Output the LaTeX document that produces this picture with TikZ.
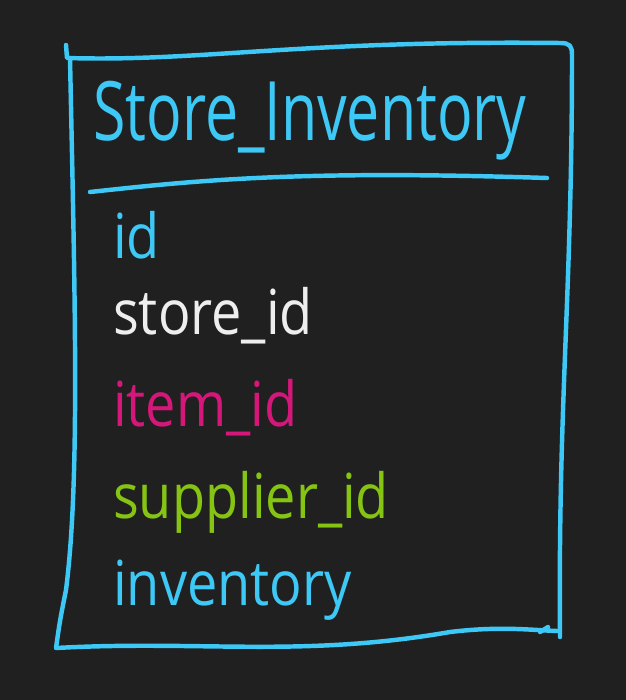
\documentclass[tikz,border=0pt]{standalone}
\usepackage{fontspec}
\setmainfont{Open Sans}
\definecolor{boardbg}{HTML}{202020}
\definecolor{penblue}{HTML}{3EC8F5}
\definecolor{penwhite}{HTML}{EEEEEE}
\definecolor{penpink}{HTML}{D6177A}
\definecolor{pengreen}{HTML}{86C414}
\tikzset{
  pen/.style={penblue, line width=3.8pt, line cap=round, line join=round},
  title/.style={anchor=base west, inner sep=0pt, xscale=0.72, font=\fontsize{70}{70}\selectfont},
  field/.style={anchor=base west, inner sep=0pt, xscale=0.87, font=\fontsize{53}{53}\selectfont}
}
\begin{document}
\begin{tikzpicture}[x=0.03cm, y=-0.03cm]
    % Background board
    \fill[boardbg] (0,0) rectangle (626,700);
    \useasboundingbox (0,0) rectangle (626,700);

    % Outline of the table
    \draw[pen] (66,45) -- (67,58) .. controls (200,62) and (300,40) .. (560,43)
        .. controls (570,43) and (572,46) .. (572,55) .. controls (572,300) and (558,400) .. (560,637);
    \draw[pen] (70,58) .. controls (75,300) and (80,480) .. (66,590) .. controls (60,620) .. (56,648)
        .. controls (200,640) and (300,658) .. (450,632) .. controls (500,626) and (530,630) .. (557,631);
    \draw[pen] (548,627) -- (540,632);

    % Header separator
    \draw[pen] (90,192) .. controls (200,180) and (300,170) .. (547,178);

    % Title
    \node[title, penblue] (title) at (93,140) {Store\_Inventory};

    % Fields
    \node[field, penblue] (fId) at (113,258) {id};
    \node[field, penwhite] (fStore) at (113,334) {store\_id};
    \node[field, penpink] (fItem) at (113,426) {item\_id};
    \node[field, pengreen] (fSupplier) at (113,518) {supplier\_id};
    \node[field, penblue] (fInventory) at (113,605) {inventory};
\end{tikzpicture}
\end{document}
